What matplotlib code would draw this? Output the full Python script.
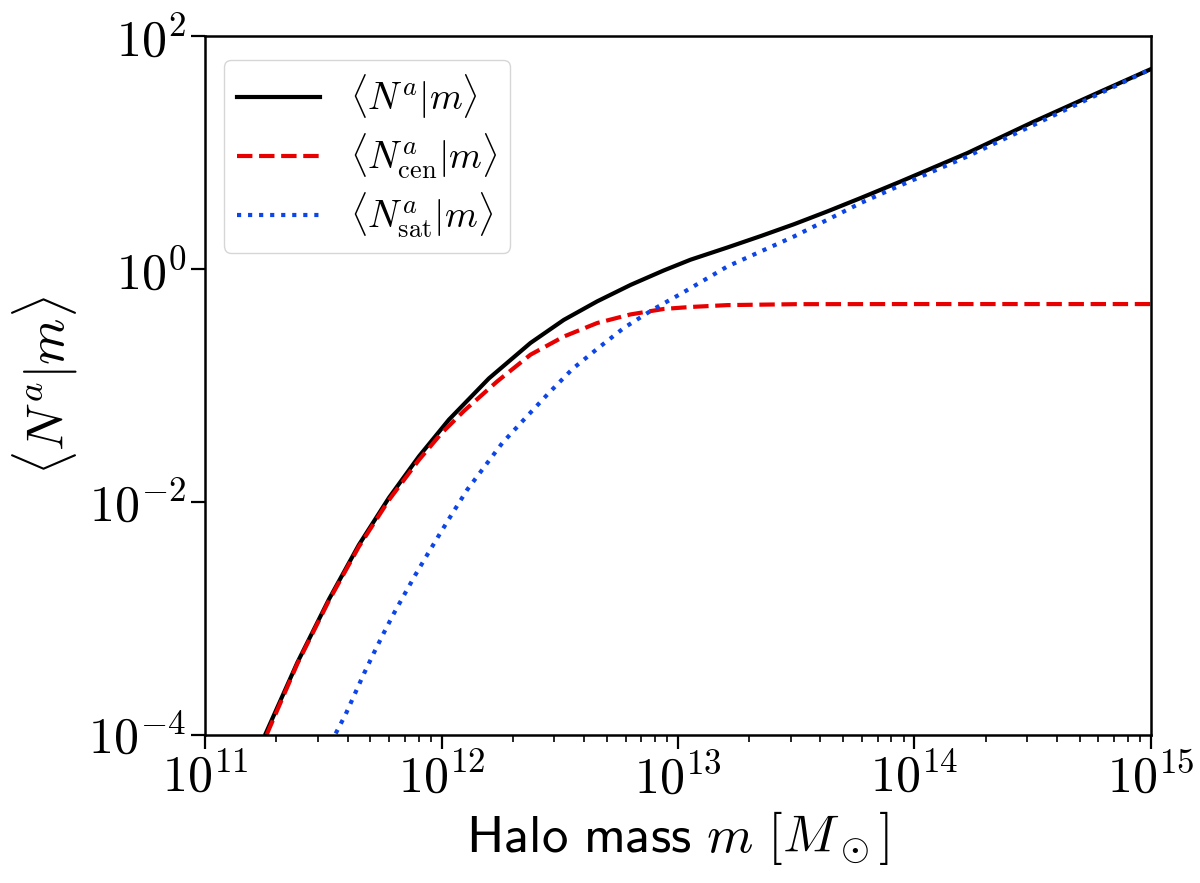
import numpy as np
import matplotlib
matplotlib.use("Agg")
import matplotlib.pyplot as plt
from matplotlib.ticker import FixedLocator, NullLocator

plt.rcParams['mathtext.fontset'] = 'cm'
plt.rcParams['font.family'] = 'serif'
plt.rcParams['font.serif'] = ['cmr10', 'DejaVu Serif']
plt.rcParams['axes.formatter.use_mathtext'] = True

# log10 halo mass and log10 <N|m>
logm_tot = [11.256, 11.39, 11.523, 11.65, 11.777, 11.904, 12.031, 12.2, 12.376, 12.517,
            12.658, 12.8, 12.94, 13.053, 13.209, 13.35, 13.491, 13.632, 13.773, 13.942,
            14.224, 14.506, 14.788, 15.0]
logn_tot = [-3.99, -3.38, -2.839, -2.37, -1.966, -1.61, -1.294, -0.94, -0.635, -0.437,
            -0.278, -0.136, -0.012, 0.080, 0.185, 0.283, 0.385, 0.495, 0.61, 0.752,
            0.996, 1.267, 1.525, 1.717]

logm_cen = [11.26, 11.39, 11.523, 11.65, 11.777, 11.904, 12.0, 12.094, 12.236, 12.376,
            12.517, 12.658, 12.799, 12.94, 13.053, 13.209, 13.5, 14.0, 15.0]
logn_cen = [-4.0, -3.39, -2.85, -2.385, -1.985, -1.64, -1.41, -1.22, -0.964, -0.736,
            -0.58, -0.464, -0.39, -0.343, -0.326, -0.31, -0.302, -0.301, -0.301]

logm_sat = [11.552, 11.594, 11.632, 11.672, 11.714, 11.756, 11.798, 11.845, 11.89, 11.94,
            11.989, 12.038, 12.109, 12.257, 12.355, 12.454, 12.555, 12.663, 12.771, 12.893,
            13.018, 13.209, 13.35, 13.491, 13.632, 13.773, 13.914, 14.013, 14.224, 14.506,
            14.788, 15.0]
logn_sat = [-3.99, -3.826, -3.654, -3.474, -3.296, -3.124, -2.959, -2.787, -2.624, -2.452,
            -2.287, -2.124, -1.894, -1.494, -1.279, -1.064, -0.856, -0.678, -0.506, -0.349,
            -0.206, 0.022, 0.151, 0.28, 0.423, 0.567, 0.695, 0.781, 0.967, 1.239,
            1.511, 1.717]

fig = plt.figure(figsize=(12, 8.83), dpi=100)
ax = fig.add_axes([0.171, 0.168, 0.788, 0.791])

ax.loglog(10**np.array(logm_tot), 10**np.array(logn_tot), color='k', lw=3,
          label=r'$\langle N^a|m\rangle$')
ax.loglog(10**np.array(logm_cen), 10**np.array(logn_cen), color='#e80000', lw=3, ls='--',
          label=r'$\langle N^a_{\rm cen}|m\rangle$')
ax.loglog(10**np.array(logm_sat), 10**np.array(logn_sat), color='#0c45e8', lw=3, ls=':',
          label=r'$\langle N^a_{\rm sat}|m\rangle$')

ax.set_xlim(1e11, 1e15)
ax.set_ylim(1e-4, 1e2)
ax.yaxis.set_major_locator(FixedLocator([1e-4, 1e-2, 1e0, 1e2]))
ax.yaxis.set_minor_locator(NullLocator())
ax.set_xlabel(r'$\mathsf{Halo\ mass}\ m\ [M_\odot]$', fontsize=38)
ax.set_ylabel(r'$\langle N^a|m\rangle$', fontsize=38, labelpad=6)
ax.tick_params(which='major', labelsize=36, length=10, width=1.6)
ax.tick_params(which='minor', length=5, width=1.2)
for s in ax.spines.values():
    s.set_linewidth(1.8)

ax.legend(loc='upper left', fontsize=27, handlelength=2.2, handletextpad=0.8,
          frameon=True, borderpad=0.35, labelspacing=0.27,
          bbox_to_anchor=(0.0, 0.993))

fig.savefig('out.png', dpi=100)
